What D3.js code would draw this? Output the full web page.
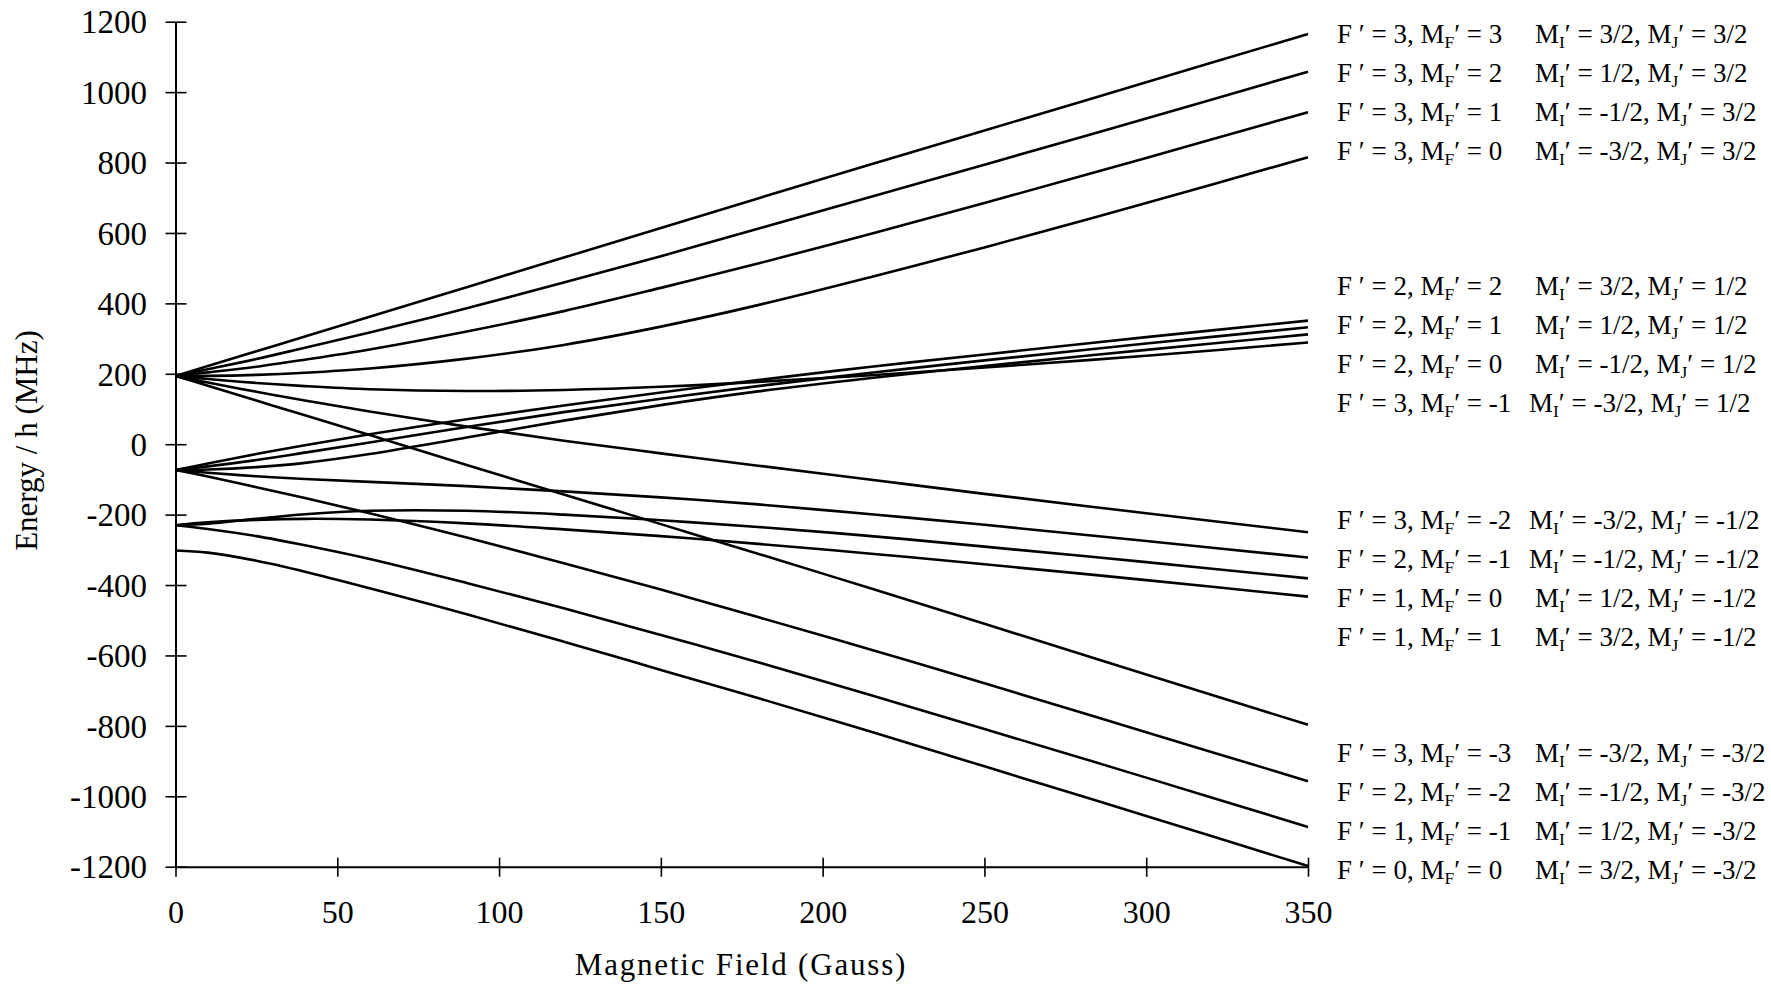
<!DOCTYPE html>
<html><head><meta charset="utf-8">
<script src="https://cdn.jsdelivr.net/npm/d3@7"></script>
<style>
body{margin:0;background:#fff}
svg text{font-family:"Liberation Serif","Times New Roman",Times,serif;fill:#000}
</style>
</head><body>
<svg id="chart" width="1771" height="985"></svg>
<script>
// Magnetic field sample points (Gauss)
const fieldGauss = [0,10,25,40,60,90,120,150,180,215,250,300,350];
// Energy / h (MHz) of each sublevel
const e_F3_M3  = [194, 222, 264, 306, 362, 446, 530, 614, 698, 795, 891, 1028, 1165];
const e_F3_M2  = [194, 213, 242, 274, 317, 386, 459, 534, 612, 703, 794, 925, 1058];
const e_F3_M1  = [194, 204, 220, 240, 269, 320, 378, 444, 513, 598, 685, 813, 943];
const e_F3_M0  = [194, 194, 197, 203, 215, 243, 282, 334, 395, 475, 559, 685, 815];
const e_F3_Mm1 = [194, 185, 174, 165, 156, 151, 154, 163, 177, 196, 218, 251, 289];
const e_F3_Mm2 = [194, 175, 149, 124, 93, 50, 10, -26, -61, -101, -141, -196, -250];
const e_F3_Mm3 = [194, 166, 124, 82, 26, -59, -143, -227, -311, -410, -510, -654, -797];
const e_F2_M2  = [-73, -55, -28, -3, 28, 71, 110, 147, 182, 220, 255, 304, 351];
const e_F2_M1  = [-73, -63, -45, -24, 5, 49, 91, 129, 165, 203, 238, 286, 332];
const e_F2_M0  = [-73, -72, -65, -53, -28, 19, 67, 111, 150, 188, 222, 268, 312];
const e_F2_Mm1 = [-73, -81, -91, -99, -107, -119, -134, -151, -171, -199, -229, -275, -322];
const e_F2_Mm2 = [-73, -92, -122, -153, -196, -265, -338, -413, -491, -584, -679, -818, -957];
const e_F1_M1  = [-230, -222, -215, -212, -214, -225, -242, -261, -283, -311, -341, -386, -433];
const e_F1_M0  = [-230, -226, -212, -199, -189, -189, -200, -216, -235, -261, -291, -335, -381];
const e_F1_Mm1 = [-230, -241, -261, -287, -326, -394, -466, -542, -619, -713, -809, -947, -1087];
const e_F0_M0  = [-302, -308, -331, -362, -409, -483, -561, -641, -721, -817, -915, -1056, -1198];

const xTicks = [0,50,100,150,200,250,300,350];
const yTicks = [-1200,-1000,-800,-600,-400,-200,0,200,400,600,800,1000,1200];

// Right-hand state labels (4 groups of 4)
const labelF  = ["3","3","3","3", "2","2","2","3", "3","2","1","1", "3","2","1","0"];
const labelMF = ["3","2","1","0", "2","1","0","-1", "-2","-1","0","1", "-3","-2","-1","0"];
const labelMI = ["3/2","1/2","-1/2","-3/2", "3/2","1/2","-1/2","-3/2", "-3/2","-1/2","1/2","3/2", "-3/2","-1/2","1/2","3/2"];
const labelMJ = ["3/2","3/2","3/2","3/2", "1/2","1/2","1/2","1/2", "-1/2","-1/2","-1/2","-1/2", "-3/2","-3/2","-3/2","-3/2"];

const series = [e_F3_M3,e_F3_M2,e_F3_M1,e_F3_M0,e_F3_Mm1,e_F3_Mm2,e_F3_Mm3,
                e_F2_M2,e_F2_M1,e_F2_M0,e_F2_Mm1,e_F2_Mm2,
                e_F1_M1,e_F1_M0,e_F1_Mm1,e_F0_M0];

const svg = d3.select("#chart");
svg.append("rect").attr("width",1771).attr("height",985).attr("fill","#fff");

const x = d3.scaleLinear().domain([0,350]).range([175.5,1308]);
const y = d3.scaleLinear().domain([-1200,1200]).range([866.7,21.7]);

// Y axis
const gy = svg.append("g").attr("transform",`translate(${x(0)},0)`)
  .call(d3.axisLeft(y).tickValues(yTicks).tickFormat(d=>String(d)).tickSizeOuter(0).tickSizeInner(10));
gy.attr("font-family",null).attr("font-size",null);
gy.select(".domain").attr("stroke","#000").attr("stroke-width",2);
gy.selectAll(".tick line").attr("x1",-10).attr("x2",11).attr("stroke","#000").attr("stroke-width",1.6);
gy.selectAll(".tick text").attr("x",147-x(0)).attr("dy","0.34em")
  .style("font-size","33px").attr("text-anchor","end");

// X axis
const gx = svg.append("g").attr("transform",`translate(0,${y(-1200)})`)
  .call(d3.axisBottom(x).tickValues(xTicks).tickFormat(d=>String(d)).tickSizeOuter(0).tickSizeInner(10));
gx.attr("font-family",null).attr("font-size",null);
gx.select(".domain").attr("stroke","#000").attr("stroke-width",2);
gx.selectAll(".tick line").attr("y1",-9).attr("y2",10).attr("stroke","#000").attr("stroke-width",1.6);
gx.selectAll(".tick text").attr("y",56.5).attr("dy",0).style("font-size","32px");

// Axis titles
svg.append("text").attr("x",741).attr("y",975).attr("text-anchor","middle")
  .style("font-size","31px").style("letter-spacing","1.8px").text("Magnetic Field (Gauss)");
svg.append("text").attr("transform","translate(37,440.5) rotate(-90)").attr("text-anchor","middle")
  .style("font-size","31px").text("Energy / h (MHz)");

// Curves
const line = d3.line().x((d,i)=>x(fieldGauss[i])).y(d=>y(d)).curve(d3.curveCatmullRom.alpha(0.5));
svg.append("g").selectAll("path").data(series).join("path")
  .attr("d",d=>line(d)).attr("fill","none").attr("stroke","#000")
  .attr("stroke-width",2.6).attr("stroke-linejoin","round");

// Labels
const groupTop = [43.3, 295, 529.3, 761.7];
const rowGap = 39;
const fs = 27;
labelF.forEach((f,i)=>{
  const g = Math.floor(i/4), r = i%4;
  const yy = groupTop[g] + r*rowGap;
  const t1 = svg.append("text").attr("x",1337).attr("y",yy).style("font-size",fs+"px");
  t1.append("tspan").text(`F \u2032 = ${f}, M`);
  t1.append("tspan").attr("dy",5).style("font-size",(fs*0.65)+"px").text("F");
  t1.append("tspan").attr("dy",-5).text(`\u2032 = ${labelMF[i]}`);
  const x2 = (labelMF[i].startsWith("-") && g < 3) ? 1529 : 1535;
  const t2 = svg.append("text").attr("x",x2).attr("y",yy).style("font-size",fs+"px");
  t2.append("tspan").text("M");
  t2.append("tspan").attr("dy",5).style("font-size",(fs*0.65)+"px").text("I");
  t2.append("tspan").attr("dy",-5).text(`\u2032 = ${labelMI[i]}, M`);
  t2.append("tspan").attr("dy",5).style("font-size",(fs*0.65)+"px").text("J");
  t2.append("tspan").attr("dy",-5).text(`\u2032 = ${labelMJ[i]}`);
});
</script>
</body></html>
